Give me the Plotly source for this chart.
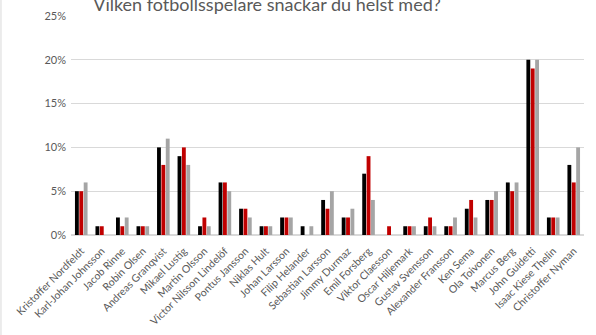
import plotly.graph_objects as go

categories = ["Kristoffer Nordfeldt", "Karl-Johan Johnsson", "Jacob Rinne", "Robin Olsen",
              "Andreas Granqvist", "Mikael Lustig", "Martin Olsson", "Victor Nilsson Lindelöf",
              "Pontus Jansson", "Niklas Hult", "Johan Larsson", "Filip Helander",
              "Sebastian Larsson", "Jimmy Durmaz", "Emil Forsberg", "Viktor Claesson",
              "Oscar Hiljemark", "Gustav Svensson", "Alexander Fransson", "Ken Sema",
              "Ola Toivonen", "Marcus Berg", "John Guidetti", "Isaac Kiese Thelin",
              "Christoffer Nyman"]
series1 = [5, 1, 2, 1, 10, 9, 1, 6, 3, 1, 2, 1, 4, 2, 7, 0, 1, 1, 1, 3, 4, 6, 20, 2, 8]
series2 = [5, 1, 1, 1, 8, 10, 2, 6, 3, 1, 2, 0, 3, 2, 9, 1, 1, 2, 1, 4, 4, 5, 19, 2, 6]
series3 = [6, 0, 2, 1, 11, 8, 1, 5, 2, 1, 2, 1, 5, 3, 4, 0, 1, 1, 2, 2, 5, 6, 20, 2, 10]
series_names = ["Serie 1", "Serie 2", "Serie 3"]
colors = ["#000000", "#C00000", "#A5A5A5"]
title = "Vilken fotbollsspelare snackar du helst med?"

FONT = "Lato"
fig = go.Figure()
for name, vals, c in zip(series_names, [series1, series2, series3], colors):
    fig.add_trace(go.Bar(x=categories, y=[v / 100 for v in vals], name=name,
                         marker=dict(color=c, line=dict(width=0))))

fig.update_layout(
    width=596, height=335,
    margin=dict(l=71, r=12, t=16, b=100),
    paper_bgcolor="white", plot_bgcolor="white",
    barmode="group", bargap=0.36, bargroupgap=0.12,
    showlegend=False,
    font=dict(family=FONT, size=11, color="#595959"),
    title=dict(text=title, x=0.448, xanchor="center", y=0.985, yref="container",
               yanchor="middle", font=dict(family=FONT, size=18, color="#595959")),
)
fig.update_xaxes(tickangle=-45, showgrid=False, showline=False, ticks="", automargin=False,
                 ticklabelstandoff=7, tickfont=dict(size=10.5, color="#595959"))
fig.update_yaxes(range=[0, 0.25], dtick=0.05, tickformat=".0%", showgrid=True, automargin=False,
                 gridcolor="#D9D9D9", gridwidth=1, zeroline=True, zerolinecolor="#D9D9D9",
                 showline=False, ticks="", ticklabelstandoff=4,
                 tickfont=dict(size=11, color="#595959"))
fig.add_shape(type="line", xref="paper", yref="paper", x0=-0.1365, x1=-0.1365, y0=-1, y1=2,
              line=dict(color="#D9D9D9", width=1))
fig.write_html("out.html")
